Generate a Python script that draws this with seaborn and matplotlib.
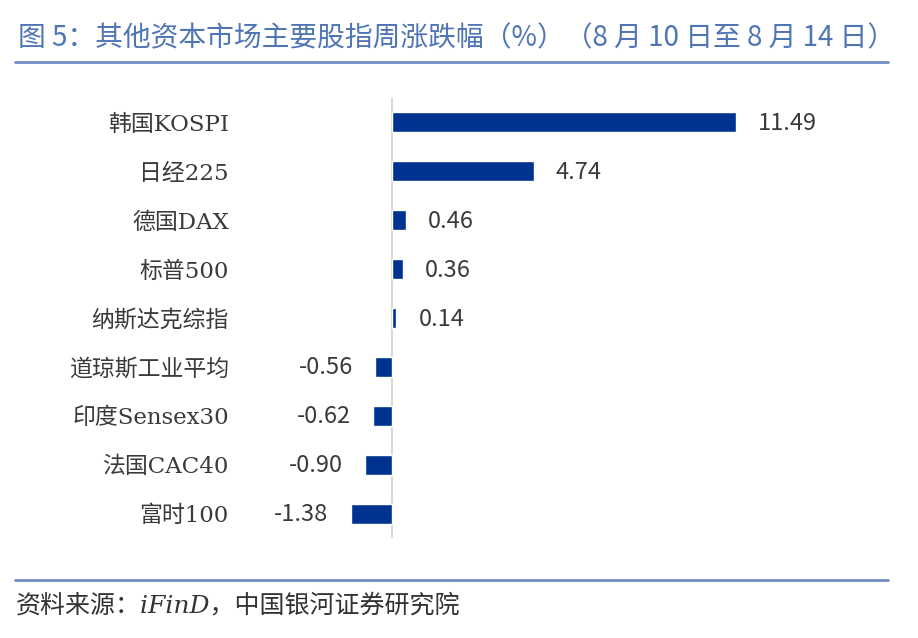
import matplotlib.pyplot as plt
import seaborn as sns
import pandas as pd
from matplotlib.lines import Line2D

indices = ["韩国KOSPI", "日经225", "德国DAX", "标普500", "纳斯达克综指",
           "道琼斯工业平均", "印度Sensex30", "法国CAC40", "富时100"]
changes = [11.49, 4.74, 0.46, 0.36, 0.14, -0.56, -0.62, -0.90, -1.38]

title = "图 5：其他资本市场主要股指周涨跌幅（%）（8 月 10 日至 8 月 14 日）"
source = "资料来源：iFinD，中国银河证券研究院"

sns.set_theme(style="white")
plt.rcParams["font.family"] = ["Noto Sans CJK SC", "DejaVu Sans"]
serif = ["DejaVu Serif", "Noto Sans CJK SC"]

df = pd.DataFrame({"index": indices, "change": changes})

W, H = 918, 638
fig = plt.figure(figsize=(W / 100, H / 100), dpi=100)
ax = fig.add_axes([240 / W, 1 - 538 / H, 640 / W, 440 / H])

sns.barplot(data=df, y="index", x="change", orient="h", color="#00338F",
            saturation=1, width=0.41, ax=ax)

ax.set_xlim((240 - 392) / 29.9, (880 - 392) / 29.9)
ax.set_ylim(len(indices) - 0.5, -0.5)
ax.axvline(0, color="#D9D9D9", lw=1.5, zorder=0)

for i, v in enumerate(changes):
    dx = 16 if v >= 0 else -16
    ax.annotate(f"{v:.2f}", (v, i), xytext=(dx, 1), textcoords="offset points",
                ha="left" if v >= 0 else "right", va="center_baseline",
                fontsize=17, color="#3A3A3A")

ax.set_xlabel("")
ax.set_ylabel("")
ax.set_xticks([])
ax.tick_params(axis="y", length=0, pad=8)
for lab in ax.get_yticklabels():
    lab.set_fontfamily(serif)
    lab.set_fontsize(16.5)
    lab.set_color("#3A3A3A")
for s in ax.spines.values():
    s.set_visible(False)

fig.text(18 / W, 1 - 38 / H, title, fontsize=20, color="#4F75B5",
         ha="left", va="center")
fig.add_artist(Line2D([15 / W, 888 / W], [1 - 62 / H, 1 - 62 / H],
                      color="#6F8EC6", lw=2, transform=fig.transFigure))
fig.add_artist(Line2D([15 / W, 888 / W], [1 - 580 / H, 1 - 580 / H],
                      color="#6F8EC6", lw=2, transform=fig.transFigure))
fig.text(16 / W, 1 - 606 / H, source, fontsize=18, color="#333333",
         family=serif, style="italic", ha="left", va="center")

fig.savefig("out.png", dpi=100)
